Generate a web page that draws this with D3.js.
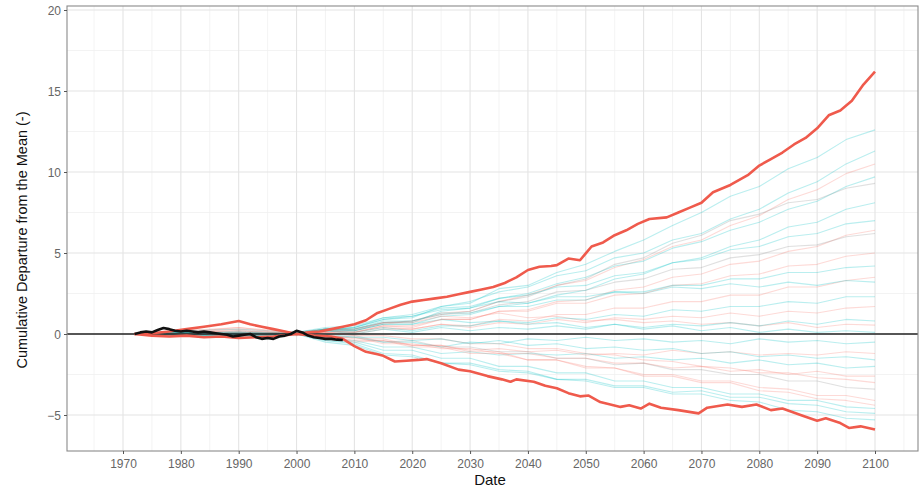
<!DOCTYPE html>
<html>
<head>
<meta charset="utf-8">
<script src="https://cdn.jsdelivr.net/npm/d3@7/dist/d3.min.js"></script>
<style>
  html, body { margin: 0; padding: 0; background: #ffffff; }
  svg { display: block; font-family: "Liberation Sans", Arial, sans-serif; }
</style>
</head>
<body>
<svg id="chart" width="920" height="490"></svg>
<script>
// ---- data ---------------------------------------------------------------
const xTicks = [1970, 1980, 1990, 2000, 2010, 2020, 2030, 2040, 2050, 2060, 2070, 2080, 2090, 2100];
const yTicks = [-5, 0, 5, 10, 15, 20];

// Years shared by the individual model runs
const runYears = [1972, 1980, 1990, 2000, 2005, 2010, 2015, 2020, 2025, 2030, 2035, 2040,
                  2045, 2050, 2055, 2060, 2065, 2070, 2075, 2080, 2085, 2090, 2095, 2100];

// Scenario of each model run
const runScenario = ["a","a","b","a","g","a","b","g","b","a","b","b","a","a","b","a","b","g",
                     "b","a","a","a","b","a","b","a","a","a","b","a"];

// Cumulative departure of each model run
const runValues = [
  [0, 0.2, 0.3, 0.1, 0.3, 0.4, 0.9, 1.0, 1.7, 1.9, 2.8, 3.0, 3.8, 4.3, 5.1, 5.8, 6.7, 7.5, 8.5, 9.1, 10.2, 10.9, 12.0, 12.6],
  [0, -0.1, 0.2, 0, 0.2, 0.4, 1.0, 1.2, 1.7, 2.0, 2.6, 2.9, 3.6, 3.9, 4.7, 5.0, 5.8, 6.2, 7.1, 7.7, 8.7, 9.4, 10.5, 11.3],
  [0, 0.1, 0.4, 0.1, 0.3, 0.2, 0.6, 0.8, 1.3, 1.4, 2.0, 2.4, 3.0, 3.3, 4.1, 4.6, 5.4, 5.8, 6.7, 7.3, 8.3, 8.9, 9.9, 10.5],
  [0, 0, -0.2, 0, 0.3, 0.3, 0.7, 0.7, 1.4, 1.6, 2.2, 2.5, 3.1, 3.5, 4.2, 4.5, 5.3, 5.7, 6.4, 6.9, 7.7, 8.2, 9.1, 9.7],
  [0, 0.2, 0.1, -0.1, 0.2, 0.2, 0.7, 0.8, 1.2, 1.4, 2.0, 2.3, 3.0, 3.4, 4.3, 4.7, 5.6, 6.1, 7.0, 7.4, 8.1, 8.3, 9.0, 9.3],
  [0, 0.1, 0, 0.1, 0.3, 0.2, 0.6, 0.6, 1.1, 1.2, 1.7, 1.9, 2.4, 2.7, 3.4, 3.7, 4.4, 4.7, 5.4, 5.8, 6.6, 6.9, 7.7, 8.1],
  [0, 0.1, 0.3, 0, 0.1, 0.1, 0.5, 0.4, 0.9, 0.9, 1.4, 1.5, 2.0, 2.1, 2.7, 2.9, 3.5, 3.7, 4.3, 4.5, 5.1, 5.4, 6.1, 6.4],
  [0, -0.1, 0.1, 0, 0.2, 0.3, 0.7, 0.8, 1.2, 1.3, 1.8, 2.0, 2.6, 2.7, 3.2, 3.4, 4.0, 4.1, 4.7, 4.9, 5.4, 5.5, 6.0, 6.2],
  [0, 0, -0.1, 0, 0.2, 0.1, 0.4, 0.3, 0.6, 0.5, 0.9, 0.8, 1.2, 1.2, 1.6, 1.6, 2.0, 2.0, 2.4, 2.4, 2.9, 2.9, 3.3, 3.5],
  [0, 0.1, 0, 0.1, 0.4, 0.5, 1.0, 1.1, 1.5, 1.6, 2.0, 1.9, 2.3, 2.3, 2.6, 2.5, 2.9, 2.8, 3.1, 2.9, 3.2, 3.0, 3.3, 3.2],
  [0, 0.1, 0.2, 0, 0.1, 0.0, 0.3, 0.3, 0.6, 0.4, 0.7, 0.6, 0.9, 0.7, 1.0, 0.9, 1.1, 1.0, 1.3, 1.1, 1.4, 1.3, 1.6, 1.7],
  [0, -0.1, 0, 0, 0.3, 0.3, 0.7, 0.7, 1.1, 1.0, 1.3, 1.0, 1.1, 0.8, 0.9, 0.7, 0.8, 0.6, 0.7, 0.5, 0.7, 0.4, 0.6, 0.55],
  [0, 0, -0.2, 0, 0.2, 0.2, 0.6, 0.6, 0.9, 0.7, 0.8, 0.6, 0.7, 0.4, 0.6, 0.3, 0.5, 0.2, 0.4, 0.1, 0.3, 0.1, 0.2, 0.1],
  [0, 0.1, 0, 0, -0.2, -0.2, -0.5, -0.5, -0.8, -0.5, -0.6, -0.3, -0.4, -0.2, -0.4, -0.3, -0.5, -0.4, -0.6, -0.3, -0.5, -0.4, -0.6, -0.5],
  [0, 0.1, 0.2, 0, -0.1, -0.5, -0.4, -0.7, -0.7, -1.0, -0.9, -1.1, -1.0, -1.3, -1.2, -1.3, -1.0, -1.2, -1.1, -1.3, -1.2, -1.3, -1.1, -1.2],
  [0, 0, -0.1, 0, -0.3, -0.4, -0.8, -0.8, -1.2, -1.1, -1.3, -1.2, -1.3, -1.2, -1.5, -1.4, -1.6, -1.5, -1.8, -1.6, -1.9, -1.8, -2.1, -2.0],
  [0, -0.1, -0.2, 0, -0.2, -0.2, -0.6, -0.6, -0.9, -0.9, -1.2, -1.2, -1.5, -1.5, -1.8, -1.8, -2.1, -2.0, -2.3, -2.2, -2.5, -2.3, -2.6, -2.6],
  [0, 0, 0.1, 0, -0.2, -0.1, -0.5, -0.4, -0.8, -0.8, -1.1, -1.1, -1.5, -1.5, -1.9, -1.8, -2.2, -2.2, -2.5, -2.5, -2.9, -2.9, -3.3, -3.4],
  [0, 0.1, 0, 0, -0.1, -0.4, -0.4, -0.8, -0.8, -1.2, -1.2, -1.6, -1.6, -2.0, -2.1, -2.5, -2.5, -2.9, -2.9, -3.3, -3.4, -3.8, -3.8, -4.1],
  [0, -0.1, -0.1, 0, -0.4, -0.5, -1.0, -1.0, -1.5, -1.5, -2.0, -2.0, -2.4, -2.4, -2.9, -2.9, -3.3, -3.3, -3.7, -3.7, -4.1, -4.1, -4.5, -4.6],
  [0, 0, 0.1, 0, -0.4, -0.6, -1.2, -1.3, -1.8, -1.9, -2.3, -2.4, -2.8, -2.8, -3.2, -3.2, -3.6, -3.5, -3.9, -3.9, -4.3, -4.4, -4.8, -4.9],
  [0, 0.1, 0, 0, -0.5, -0.7, -1.3, -1.4, -1.8, -1.8, -2.2, -2.3, -2.8, -2.9, -3.3, -3.3, -3.7, -3.7, -4.1, -4.2, -4.7, -4.8, -5.2, -5.3],
  [0, 0, -0.1, 0, 0.1, -0.1, -0.1, -0.3, -0.3, -0.6, -0.6, -0.9, -0.9, -1.2, -1.3, -1.6, -1.7, -2.0, -2.1, -2.4, -2.4, -2.7, -2.8, -3.0],
  [0, 0.1, 0, 0, 0.2, 0.1, 0.4, 0.2, 0.5, 0.5, 0.8, 0.7, 1.0, 0.9, 1.2, 1.1, 1.5, 1.4, 1.7, 1.7, 2.0, 1.9, 2.3, 2.3],
  [0, 0.2, 0.4, 0, 0.2, 0.1, 0.5, 0.5, 0.9, 0.9, 1.4, 1.4, 1.9, 1.9, 2.4, 2.5, 3.0, 3.1, 3.6, 3.7, 4.2, 4.3, 4.8, 5.0],
  [0, 0, 0.1, 0, 0.3, 0.4, 0.9, 1.1, 1.6, 1.7, 2.2, 2.4, 2.9, 3.0, 3.6, 3.8, 4.4, 4.6, 5.2, 5.4, 6.0, 6.2, 6.8, 7.0],
  [0, 0.1, 0, 0, 0, -0.2, -0.2, -0.4, -0.3, -0.6, -0.4, -0.7, -0.6, -0.9, -0.8, -1.0, -0.9, -1.2, -1.1, -1.4, -1.3, -1.5, -1.4, -1.6],
  [0, -0.1, 0, 0, 0.2, 0.0, 0.3, 0.1, 0.4, 0.2, 0.4, 0.3, 0.5, 0.3, 0.6, 0.4, 0.6, 0.5, 0.7, 0.5, 0.8, 0.6, 0.9, 0.8],
  [0, 0, 0.1, 0, 0, -0.3, -0.3, -0.7, -0.7, -1.1, -1.1, -1.6, -1.6, -2.1, -2.1, -2.6, -2.6, -3.0, -3.0, -3.5, -3.6, -4.0, -4.1, -4.4],
  [0, 0, -0.1, 0, 0.3, 0.3, 0.8, 0.8, 1.3, 1.3, 1.7, 1.7, 2.1, 2.1, 2.6, 2.6, 3.0, 3.0, 3.4, 3.4, 3.8, 3.8, 4.1, 4.2]
];

// Upper and lower envelope of the ensemble
const upperYears = [1972, 1975, 1978, 1981, 1984, 1987, 1990, 1992, 1994, 1996, 1998, 2000, 2002, 2004, 2006,
  2008, 2010, 2012, 2014, 2016, 2018, 2020, 2022, 2024, 2026, 2028, 2030, 2032, 2034, 2036, 2038, 2040,
  2042, 2044, 2045, 2047, 2049, 2050, 2051, 2053, 2055, 2057, 2059, 2061, 2064, 2066, 2068, 2070, 2072,
  2075, 2078, 2080, 2082, 2084, 2086, 2088, 2090, 2092, 2094, 2096, 2098, 2100];
const upperValues = [0, 0.05, 0.15, 0.3, 0.45, 0.6, 0.8, 0.6, 0.45, 0.3, 0.15, 0.0, 0.1, 0.15, 0.3,
  0.45, 0.6, 0.85, 1.3, 1.55, 1.8, 2.0, 2.1, 2.2, 2.3, 2.45, 2.6, 2.75, 2.9, 3.15, 3.5, 3.95,
  4.15, 4.2, 4.25, 4.66, 4.55, 4.98, 5.4, 5.65, 6.1, 6.4, 6.8, 7.1, 7.2, 7.5, 7.8, 8.1, 8.75,
  9.2, 9.8, 10.4, 10.8, 11.2, 11.7, 12.1, 12.7, 13.5, 13.8, 14.4, 15.4, 16.2];

const lowerYears = [1972, 1975, 1978, 1981, 1984, 1987, 1990, 1993, 1996, 2000, 2003, 2006, 2008, 2010,
  2012, 2014, 2015, 2017, 2019, 2021, 2022.5, 2025, 2028, 2030, 2033, 2035.5, 2037, 2038, 2041, 2043,
  2045, 2047, 2049, 2050.5, 2052.5, 2056, 2057.5, 2059.5, 2061, 2063, 2066, 2069.5, 2071, 2074.5, 2077,
  2079.5, 2082, 2084, 2087.5, 2090, 2091.5, 2094, 2095.5, 2097.5, 2100];
const lowerValues = [0, -0.1, -0.15, -0.1, -0.2, -0.15, -0.25, -0.2, -0.15, 0.0, -0.1, -0.15, -0.3, -0.75,
  -1.1, -1.25, -1.35, -1.7, -1.65, -1.6, -1.55, -1.8, -2.2, -2.3, -2.6, -2.8, -2.95, -2.8, -2.95, -3.2,
  -3.35, -3.65, -3.85, -3.8, -4.2, -4.5, -4.4, -4.6, -4.3, -4.55, -4.7, -4.9, -4.55, -4.35, -4.5,
  -4.35, -4.7, -4.6, -5.05, -5.35, -5.2, -5.5, -5.8, -5.7, -5.9];

// Observed record
const obsYears = [1972, 1973, 1974, 1975, 1976, 1977, 1978, 1979, 1980, 1981, 1982, 1983, 1984, 1985,
  1986, 1987, 1988, 1989, 1990, 1991, 1992, 1993, 1994, 1995, 1996, 1997, 1998, 1999, 2000, 2001,
  2002, 2003, 2004, 2005, 2006, 2007, 2008];
const obsValues = [0, 0.1, 0.15, 0.1, 0.25, 0.37, 0.3, 0.2, 0.15, 0.2, 0.15, 0.1, 0.15, 0.1,
  0.05, 0.0, -0.05, -0.15, -0.1, -0.05, 0.0, -0.2, -0.3, -0.25, -0.3, -0.15, -0.1, 0.0, 0.2, 0.1,
  -0.1, -0.2, -0.25, -0.3, -0.3, -0.35, -0.37];

// ---- layout -------------------------------------------------------------
const panel = { left: 67, right: 918, top: 6, bottom: 451 };
const svg = d3.select("#chart");

const x = d3.scaleLinear().domain([1970, 2100]).range([123, 875]);
const y = d3.scaleLinear().domain([-5, 20]).range([415, 10]);

const scenarioColour = { a: "#00BFC4", b: "#F8766D", g: "#8c8c8c" };
const scenarioOpacity = { a: 0.27, b: 0.27, g: 0.27 };

// panel background
svg.append("rect")
  .attr("x", panel.left).attr("y", panel.top)
  .attr("width", panel.right - panel.left).attr("height", panel.bottom - panel.top)
  .attr("fill", "#ffffff");

// grid lines
const grid = svg.append("g");
const xMinor = d3.range(1965, 2106, 10);
const yMinor = [-7.5, -2.5, 2.5, 7.5, 12.5, 17.5];
grid.selectAll(".xminor").data(xMinor).join("line")
  .attr("x1", d => x(d)).attr("x2", d => x(d))
  .attr("y1", panel.top).attr("y2", panel.bottom)
  .attr("stroke", "#f0f0f0").attr("stroke-width", 0.8);
grid.selectAll(".yminor").data(yMinor.filter(v => y(v) > panel.top && y(v) < panel.bottom)).join("line")
  .attr("x1", panel.left).attr("x2", panel.right)
  .attr("y1", d => y(d)).attr("y2", d => y(d))
  .attr("stroke", "#f0f0f0").attr("stroke-width", 0.8);
grid.selectAll(".xmajor").data(xTicks).join("line")
  .attr("x1", d => x(d)).attr("x2", d => x(d))
  .attr("y1", panel.top).attr("y2", panel.bottom)
  .attr("stroke", "#e4e4e4").attr("stroke-width", 1.1);
grid.selectAll(".ymajor").data(yTicks).join("line")
  .attr("x1", panel.left).attr("x2", panel.right)
  .attr("y1", d => y(d)).attr("y2", d => y(d))
  .attr("stroke", "#e4e4e4").attr("stroke-width", 1.1);

// model runs
const line = d3.line().x(d => x(d[0])).y(d => y(d[1]));
svg.append("g").selectAll("path").data(runValues).join("path")
  .attr("d", vals => line(vals.map((v, i) => [runYears[i], v])))
  .attr("fill", "none")
  .attr("stroke", (d, i) => scenarioColour[runScenario[i]])
  .attr("stroke-opacity", (d, i) => scenarioOpacity[runScenario[i]])
  .attr("stroke-width", 1.1)
  .attr("stroke-linejoin", "round");

// zero reference
svg.append("line")
  .attr("x1", panel.left).attr("x2", panel.right)
  .attr("y1", y(0)).attr("y2", y(0))
  .attr("stroke", "#222222").attr("stroke-width", 1.4);

// envelopes
[[upperYears, upperValues], [lowerYears, lowerValues]].forEach(([ys, vs]) => {
  svg.append("path")
    .attr("d", line(vs.map((v, i) => [ys[i], v])))
    .attr("fill", "none")
    .attr("stroke", "#ef5a4c")
    .attr("stroke-width", 2.6)
    .attr("stroke-linejoin", "round");
});

// observed record
svg.append("path")
  .attr("d", line(obsValues.map((v, i) => [obsYears[i], v])))
  .attr("fill", "none")
  .attr("stroke", "#111111")
  .attr("stroke-width", 2.6)
  .attr("stroke-linejoin", "round");

// panel border
svg.append("rect")
  .attr("x", panel.left).attr("y", panel.top)
  .attr("width", panel.right - panel.left).attr("height", panel.bottom - panel.top)
  .attr("fill", "none").attr("stroke", "#8a8a8a").attr("stroke-width", 1.1);

// axes
const xAxis = d3.axisBottom(x).tickValues(xTicks).tickFormat(d3.format("d")).tickSize(3).tickPadding(5);
const yAxis = d3.axisLeft(y).tickValues(yTicks).tickFormat(d3.format("d")).tickSize(3).tickPadding(3);

const gx = svg.append("g").attr("transform", `translate(0,${panel.bottom})`).call(xAxis);
const gy = svg.append("g").attr("transform", `translate(${panel.left},0)`).call(yAxis);
[gx, gy].forEach(g => {
  g.select(".domain").remove();
  g.selectAll(".tick line").attr("stroke", "#555555");
  g.selectAll(".tick text").attr("fill", "#666666").attr("font-size", 12)
    .attr("font-family", "Liberation Sans, Arial, sans-serif");
});
gy.selectAll(".tick text").attr("dy", "0.35em");

// axis titles
svg.append("text")
  .attr("x", 490).attr("y", 485)
  .attr("text-anchor", "middle")
  .attr("font-size", 15).attr("fill", "#111111")
  .text("Date");

svg.append("text")
  .attr("transform", "translate(27,240) rotate(-90)")
  .attr("text-anchor", "middle")
  .attr("font-size", 14.5).attr("fill", "#111111")
  .text("Cumulative Departure from the Mean (-)");
</script>
</body>
</html>
